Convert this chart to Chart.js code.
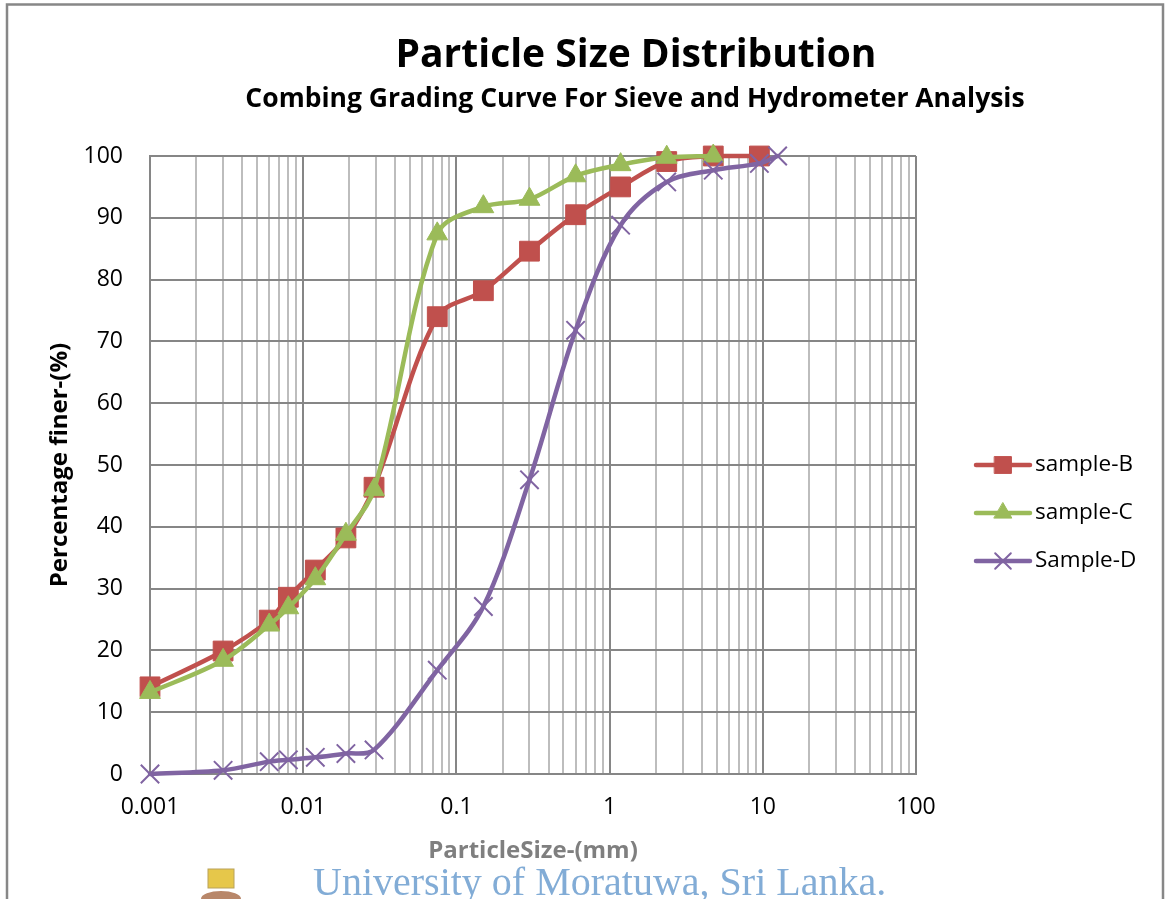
<!DOCTYPE html>
<html>
<head>
<meta charset="utf-8">
<title>Particle Size Distribution</title>
<script src="https://cdn.jsdelivr.net/npm/chart.js@4.4.1/dist/chart.umd.min.js"></script>
<style>
  html, body { margin: 0; padding: 0; background: #fff; }
</style>
</head>
<body>
<canvas id="psd" width="1165" height="899"></canvas>
<script>
// particle sizes (mm) and percentage finer for each sample
var sizeB = [0.001, 0.003, 0.006, 0.008, 0.012, 0.019, 0.029, 0.075, 0.15, 0.3, 0.6, 1.18, 2.36, 4.75, 9.5];
var finerB = [14.1, 19.9, 24.9, 28.6, 33.0, 38.2, 46.4, 74.0, 78.2, 84.6, 90.5, 95.0, 99.1, 100, 100];

var sizeC = [0.001, 0.003, 0.006, 0.008, 0.012, 0.019, 0.029, 0.075, 0.15, 0.3, 0.6, 1.18, 2.36, 4.75];
var finerC = [13.2, 18.4, 24.1, 26.9, 31.6, 38.8, 46.0, 87.4, 91.8, 93.0, 96.8, 98.6, 99.8, 100];

var sizeD = [0.001, 0.003, 0.006, 0.008, 0.012, 0.019, 0.029, 0.075, 0.15, 0.3, 0.6, 1.18, 2.36, 4.75, 9.5, 12.5];
var finerD = [0, 0.6, 2.0, 2.3, 2.7, 3.3, 3.9, 16.8, 27.1, 47.6, 71.8, 88.8, 95.8, 97.7, 98.8, 100];

var seriesNames = ["sample-B", "sample-C", "Sample-D"];
var xTickLabels = ["0.001", "0.01", "0.1", "1", "10", "100"];
var yTicks = [0, 10, 20, 30, 40, 50, 60, 70, 80, 90, 100];

var FONT = "'Open Sans', sans-serif";

function toPoints(xs, ys) {
    var pts = [];
    for (var i = 0; i < xs.length; i++) {
        pts.push({ x: xs[i], y: ys[i] });
    }
    return pts;
}

function isDecade(v) {
    var e = Math.log10(v);
    return Math.abs(e - Math.round(e)) < 1e-9;
}

// page frame, titles, legend, watermark
var decor = {
    id: "decor",
    beforeDraw: function (chart) {
        var c = chart.ctx;
        c.save();
        c.fillStyle = "#fff";
        c.fillRect(0, 0, chart.width, chart.height);
        c.strokeStyle = "#878787";
        c.lineWidth = 2.5;
        c.strokeRect(7, 4.5, 1156, 1000);
        c.restore();
    },
    afterDraw: function (chart) {
        var c = chart.ctx;
        c.save();
        c.fillStyle = "#000";
        c.textAlign = "center";
        c.textBaseline = "alphabetic";
        c.font = "bold 39px " + FONT;
        c.fillText("Particle Size Distribution", 636, 67);
        c.font = "bold 26.5px " + FONT;
        c.fillText("Combing Grading Curve For Sieve and Hydrometer Analysis", 635, 107);

        // legend: line + marker + text
        var a = chart.chartArea;
        var midY = (a.top + a.bottom) / 2;
        chart.data.datasets.forEach(function (ds, i) {
            var y = midY + i * 48;
            var x0 = a.right + 60, x1 = a.right + 114;
            c.strokeStyle = ds.borderColor;
            c.lineWidth = ds.borderWidth;
            c.lineCap = "round";
            c.beginPath();
            c.moveTo(x0, y);
            c.lineTo(x1, y);
            c.stroke();
            c.fillStyle = ds.pointBackgroundColor;
            c.strokeStyle = ds.pointBorderColor;
            c.lineWidth = ds.pointBorderWidth;
            Chart.helpers.drawPoint(c, {
                pointStyle: ds.pointStyle,
                radius: ds.pointRadius * 0.85,
                rotation: 0,
                borderWidth: ds.pointBorderWidth
            }, (x0 + x1) / 2, y);
            c.fillStyle = "#000";
            c.textAlign = "left";
            c.textBaseline = "middle";
            c.font = "22.5px " + FONT;
            c.fillText(ds.label, x1 + 5, y);
        });

        // watermark
        c.fillStyle = "#e6c74a";
        c.fillRect(208, 869, 26, 19);
        c.strokeStyle = "#b9a25a";
        c.lineWidth = 1;
        c.strokeRect(208, 869, 26, 19);
        c.fillStyle = "#b8876a";
        c.beginPath();
        c.ellipse(221, 899, 20, 8, 0, Math.PI, 2 * Math.PI);
        c.fill();
        c.fillStyle = "#82acd6";
        c.textAlign = "left";
        c.textBaseline = "alphabetic";
        c.font = "40px 'Liberation Serif', serif";
        c.fillText("University of Moratuwa, Sri Lanka.", 313, 895);
        c.restore();
    }
};

new Chart("psd", {
    type: "line",
    data: {
        datasets: [{
            label: seriesNames[0],
            data: toPoints(sizeB, finerB),
            borderColor: "#C0504D",
            borderWidth: 4.5,
            pointBackgroundColor: "#C0504D",
            pointBorderColor: "#C0504D",
            pointStyle: "rect",
            pointRadius: 14,
            pointBorderWidth: 1,
            order: 3
        }, {
            label: seriesNames[1],
            data: toPoints(sizeC, finerC),
            borderColor: "#9BBB59",
            borderWidth: 4.5,
            pointBackgroundColor: "#9BBB59",
            pointBorderColor: "#9BBB59",
            pointStyle: "triangle",
            pointRadius: 12,
            pointBorderWidth: 1,
            order: 2
        }, {
            label: seriesNames[2],
            data: toPoints(sizeD, finerD),
            borderColor: "#8064A2",
            borderWidth: 4.5,
            pointBackgroundColor: "#8064A2",
            pointBorderColor: "#8064A2",
            pointStyle: "crossRot",
            pointRadius: 13,
            pointBorderWidth: 2,
            order: 1
        }]
    },
    options: {
        responsive: false,
        animation: false,
        devicePixelRatio: 1,
        layout: { padding: { top: 156, right: 249, bottom: 33, left: 0 } },
        elements: {
            line: { tension: 0.33, borderCapStyle: "round", borderJoinStyle: "round", fill: false }
        },
        datasets: { line: { clip: false } },
        plugins: {
            legend: { display: false },
            tooltip: { enabled: false }
        },
        scales: {
            x: {
                type: "logarithmic",
                min: 0.001,
                max: 100,
                afterBuildTicks: function (s) {
                    // keep 1..9 per decade only
                    s.ticks = s.ticks.filter(function (t) {
                        var m = t.value / Math.pow(10, Math.floor(Math.log10(t.value) + 1e-9));
                        return Math.abs(m - Math.round(m)) < 1e-6;
                    });
                },
                afterFit: function (s) { s.height = 92; },
                grid: {
                    drawTicks: false,
                    color: function (ctx) { return ctx.tick && isDecade(ctx.tick.value) ? "#868686" : "#bdbdbd"; },
                    lineWidth: 2
                },
                border: { color: "#868686", width: 2 },
                ticks: {
                    autoSkip: false,
                    maxRotation: 0,
                    minRotation: 0,
                    padding: 20,
                    color: "#000",
                    font: { family: FONT, size: 23 },
                    callback: function (v) {
                        if (!isDecade(v)) return "";
                        return xTickLabels[Math.round(Math.log10(v)) + 3];
                    }
                },
                title: {
                    display: true,
                    text: "ParticleSize-(mm)",
                    color: "#7f7f7f",
                    font: { family: FONT, size: 24, weight: "bold" },
                    padding: { top: 0, bottom: 0 }
                }
            },
            y: {
                min: yTicks[0],
                max: yTicks[yTicks.length - 1],
                afterFit: function (s) { s.width = 150; },
                grid: { drawTicks: false, color: "#868686", lineWidth: 2 },
                border: { color: "#868686", width: 2 },
                ticks: {
                    stepSize: 10,
                    padding: 27,
                    color: "#000",
                    font: { family: FONT, size: 23 }
                },
                title: {
                    display: true,
                    text: "Percentage finer-(%)",
                    color: "#000",
                    font: { family: FONT, size: 24, weight: "bold" },
                    padding: { top: 46, bottom: 0 }
                }
            }
        }
    },
    plugins: [decor]
});
</script>
</body>
</html>
